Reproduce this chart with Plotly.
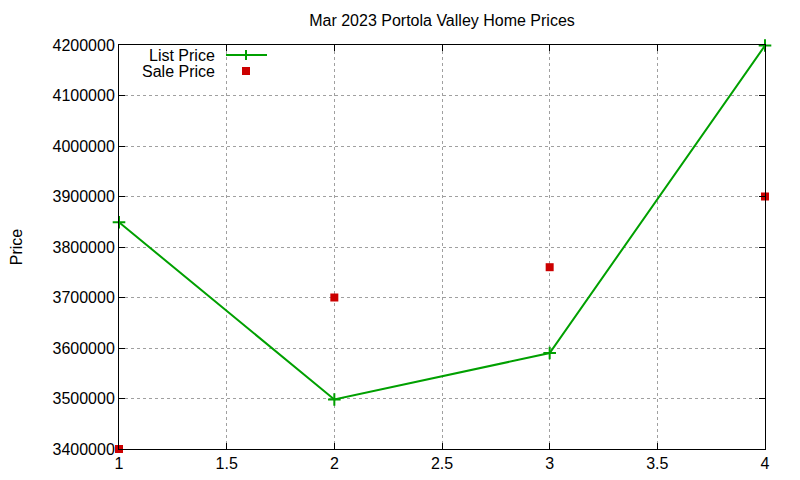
import plotly.graph_objects as go

# Data
x_vals = [1, 2, 3, 4]
list_price = [3849000, 3498000, 3590000, 4199000]
sale_price = [3400000, 3700000, 3760000, 3900000]

green = "#00a000"
red = "#cc0000"
font = "Liberation Sans, Arial, sans-serif"

fig = go.Figure()

fig.add_trace(go.Scatter(
    x=x_vals, y=list_price, mode="lines+markers", name="List Price",
    line=dict(color=green, width=2),
    marker=dict(symbol="cross-thin", size=9, line=dict(color=green, width=2)),
    cliponaxis=False,
))
fig.add_trace(go.Scatter(
    x=x_vals, y=sale_price, mode="markers", name="Sale Price",
    marker=dict(symbol="square", size=8, color=red),
    cliponaxis=False,
))

# gnuplot-style key: text on the left, sample on the right
for label, ypos in [("List Price", 0.9752), ("Sale Price", 0.9356)]:
    fig.add_annotation(x=0.1517, y=ypos, xref="paper", yref="paper", text=label,
                       showarrow=False, xanchor="right", yanchor="middle", height=15,
                       font=dict(family=font, size=16, color="black"))
fig.add_shape(type="line", xref="paper", yref="paper", x0=0.1656, x1=0.2291, y0=0.9752, y1=0.9752,
              line=dict(color=green, width=2))
fig.add_shape(type="line", xref="paper", yref="paper", x0=0.1966, x1=0.1966, y0=0.9628, y1=0.9876,
              line=dict(color=green, width=2))
fig.add_shape(type="rect", xref="paper", yref="paper", x0=0.1904, x1=0.2028, y0=0.9257, y1=0.9455,
              line=dict(width=0), fillcolor=red)

axis_common = dict(
    showline=True, linecolor="black", linewidth=1, mirror="allticks",
    ticks="inside", ticklen=6, tickcolor="black",
    showgrid=True, gridcolor="#a0a0a0", griddash="dot", gridwidth=1,
    zeroline=False, automargin=False,
    tickfont=dict(family=font, size=16, color="black"),
)

fig.update_xaxes(range=[1, 4], dtick=0.5, tick0=1, **axis_common)
fig.update_yaxes(range=[3400000, 4200000], dtick=100000, tickformat="d",
                 title=dict(text="Price", font=dict(family=font, size=16, color="black"), standoff=33),
                 **axis_common)

# page body has an 8px margin, so the figure is sized and padded to compensate
fig.update_layout(
    width=792, height=472,
    margin=dict(l=111, r=35, t=37, b=31),
    plot_bgcolor="white", paper_bgcolor="white",
    showlegend=False,
    title=dict(text="Mar 2023 Portola Valley Home Prices", xref="paper", x=0.5, xanchor="center",
               y=0.9746, yanchor="middle", font=dict(family=font, size=16, color="black")),
)

fig.write_html("out.html")
